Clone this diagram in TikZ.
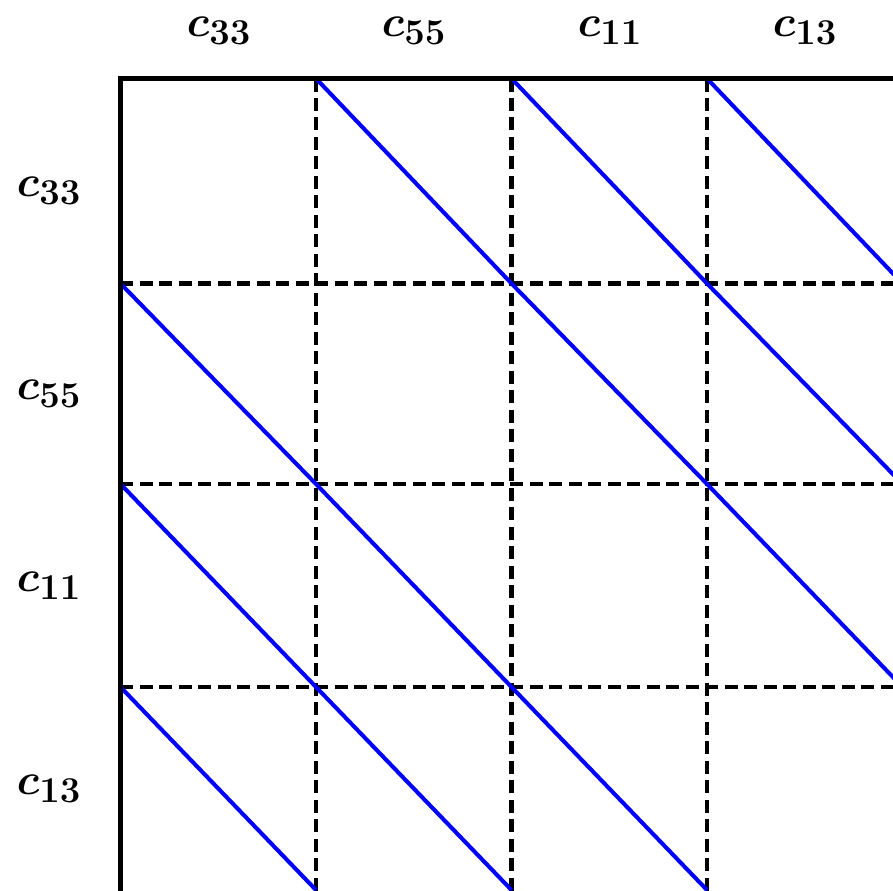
\documentclass[tikz,border=0pt]{standalone}
\usepackage{tikz}
\begin{document}
\begin{tikzpicture}[x=0.02cm,y=-0.02cm,
  frame/.style={line width=2.3pt,line join=miter},
  gridline/.style={line width=2.3pt,dash pattern=on 0.26cm off 0.13cm},
  diag/.style={line width=2.3pt,color={rgb,255:red,0;green,0;blue,255}},
  lab/.style={font=\fontsize{31}{37}\selectfont\boldmath,inner sep=0pt}]
\useasboundingbox (0,0) rectangle (893,890);
% grid coordinates
\def\xs{{120.5,316,511.5,707,902.5}}
\def\ys{{78.5,283.5,484,687,890}}
% dashed interior lines
\foreach \x in {316,511.5,707} \draw[gridline] (\x,78.5) -- (\x,892);
\foreach \y in {283.5,484,687} \draw[gridline] (120.5,\y) -- (905,\y);
% blue diagonals in off-diagonal cells
\foreach \r in {0,...,3}{
  \foreach \c in {0,...,3}{
    \ifnum\r=\c\else
      \pgfmathsetmacro{\xa}{\xs[\c]}
      \pgfmathsetmacro{\xb}{\xs[\c+1]}
      \pgfmathsetmacro{\ya}{\ys[\r]}
      \pgfmathsetmacro{\yb}{\ys[\r+1]}
      \draw[diag] (\xa,\ya) -- (\xb,\yb);
    \fi
  }
}
% solid frame
\draw[frame] (120.5,892) -- (120.5,78.5) -- (905,78.5);
% labels
\node[lab] (t1) at (219,31) {$c_{33}$};
\node[lab] (t2) at (414,31) {$c_{55}$};
\node[lab] (t3) at (610,31) {$c_{11}$};
\node[lab] (t4) at (805,31) {$c_{13}$};
\node[lab] (l1) at (49,191) {$c_{33}$};
\node[lab] (l2) at (49,394) {$c_{55}$};
\node[lab] (l3) at (49,586) {$c_{11}$};
\node[lab] (l4) at (49,789) {$c_{13}$};
\end{tikzpicture}
\end{document}
